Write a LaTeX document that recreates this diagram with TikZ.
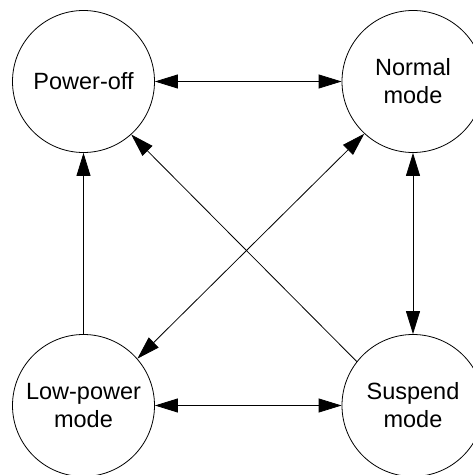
\documentclass[tikz,border=0pt]{standalone}
\usepackage{fontspec}
\setmainfont{Liberation Sans}
\usetikzlibrary{arrows.meta}
\begin{document}
\begin{tikzpicture}[x=1pt,y=1pt,
  state/.style={circle,draw,line width=0.8pt,minimum size=142pt,inner sep=0pt,
    align=center,font=\fontsize{23.5}{28}\selectfont},
  conn/.style={line width=0.8pt,arrows={-Triangle[length=23pt,width=14pt]}},
  biconn/.style={line width=0.8pt,arrows={Triangle[length=23pt,width=14pt]-Triangle[length=23pt,width=14pt]}}]
\useasboundingbox (0,0) rectangle (473,475);
\clip (0,0) rectangle (473,475);
\node[state] (po) at (83.5,393.5) {Power-off};
\node[state] (nm) at (413,393.5) {Normal\\mode};
\node[state] (lp) at (83.5,69.5) {Low-power\\mode};
\node[state] (su) at (413,69.5) {Suspend\\mode};
\draw[biconn] (po.east) -- (nm.west);
\draw[biconn] (lp.east) -- (su.west);
\draw[biconn] (nm.south) -- (su.north);
\draw[conn] (lp.north) -- (po.south);
\draw[conn] (su.142) -- (po.-48.7);
\draw[biconn] (lp.41) -- (nm.-133.9);
\end{tikzpicture}
\end{document}
